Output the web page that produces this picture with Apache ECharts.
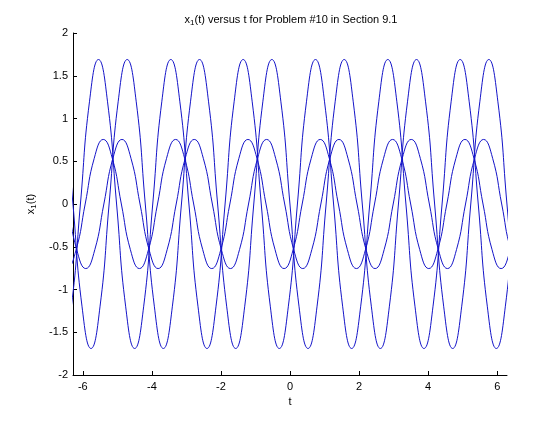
<!DOCTYPE html>
<html><head><meta charset="utf-8">
<script src="https://cdn.jsdelivr.net/npm/echarts@6/dist/echarts.min.js"></script>
<style>html,body{margin:0;padding:0;background:#fff}#c{width:560px;height:421px}</style>
</head><body><div id="c"></div>
<script>
// Curve 1 (large amplitude): t values of peaks, half-levels, crossings
const tA = [-6.5922,-6.3304,-6.0686,-5.8068,-5.5450,-5.2832,-5.0214,-4.7596,-4.4978,-4.2360,-3.9742,-3.7124,-3.4506,-3.1888,-2.9270,-2.6652,-2.4034,-2.1416,-1.8798,-1.6180,-1.3562,-1.0944,-0.8326,-0.5708,-0.3090,-0.0472,0.2146,0.4764,0.7382,1.0000,1.2618,1.5236,1.7854,2.0472,2.3090,2.5708,2.8326,3.0944,3.3562,3.6180,3.8798,4.1416,4.4034,4.6652,4.9270,5.1888,5.4506,5.7124,5.9742,6.2360,6.4978,6.7596];
const yA = [-1.69,-1.195,0,1.195,1.69,1.195,0,-1.195,
 -1.69,-1.195,0,1.195,1.69,1.195,0,-1.195,
 -1.69,-1.195,0,1.195,1.69,1.195,0,-1.195,
 -1.69,-1.195,0,1.195,1.69,1.195,0,-1.195,
 -1.69,-1.195,0,1.195,1.69,1.195,0,-1.195,
 -1.69,-1.195,0,1.195,1.69,1.195,0,-1.195,
 -1.69,-1.195,0,1.195];
// Curve 2 (large amplitude)
const tB = [-6.8084,-6.5466,-6.2848,-6.0230,-5.7612,-5.4994,-5.2376,-4.9758,-4.7140,-4.4522,-4.1904,-3.9286,-3.6668,-3.4050,-3.1432,-2.8814,-2.6196,-2.3578,-2.0960,-1.8342,-1.5724,-1.3106,-1.0488,-0.7870,-0.5252,-0.2634,-0.0016,0.2602,0.5220,0.7838,1.0456,1.3074,1.5692,1.8310,2.0928,2.3546,2.6164,2.8782,3.1400,3.4018,3.6636,3.9254,4.1872,4.4490,4.7108,4.9726,5.2344,5.4962,5.7580,6.0198,6.2816,6.5434,6.8052];
const yB = [1.69,1.195,0,-1.195,-1.69,-1.195,0,1.195,
 1.69,1.195,0,-1.195,-1.69,-1.195,0,1.195,
 1.69,1.195,0,-1.195,-1.69,-1.195,0,1.195,
 1.69,1.195,0,-1.195,-1.69,-1.195,0,1.195,
 1.69,1.195,0,-1.195,-1.69,-1.195,0,1.195,
 1.69,1.195,0,-1.195,-1.69,-1.195,0,1.195,
 1.69,1.195,0,-1.195,-1.69];
// Curve 3 (small amplitude)
const tC = [-6.7160,-6.4542,-6.1924,-5.9306,-5.6688,-5.4070,-5.1452,-4.8834,-4.6216,-4.3598,-4.0980,-3.8362,-3.5744,-3.3126,-3.0508,-2.7890,-2.5272,-2.2654,-2.0036,-1.7418,-1.4800,-1.2182,-0.9564,-0.6946,-0.4328,-0.1710,0.0908,0.3526,0.6144,0.8762,1.1380,1.3998,1.6616,1.9234,2.1852,2.4470,2.7088,2.9706,3.2324,3.4942,3.7560,4.0178,4.2796,4.5414,4.8032,5.0650,5.3268,5.5886,5.8504,6.1122,6.3740,6.6358];
const yC = [-0.534,-0.755,-0.534,0,0.534,0.755,0.534,0,
 -0.534,-0.755,-0.534,0,0.534,0.755,0.534,0,
 -0.534,-0.755,-0.534,0,0.534,0.755,0.534,0,
 -0.534,-0.755,-0.534,0,0.534,0.755,0.534,0,
 -0.534,-0.755,-0.534,0,0.534,0.755,0.534,0,
 -0.534,-0.755,-0.534,0,0.534,0.755,0.534,0,
 -0.534,-0.755,-0.534,0];
// Curve 4 (small amplitude)
const tD = [-6.6986,-6.4368,-6.1750,-5.9132,-5.6514,-5.3896,-5.1278,-4.8660,-4.6042,-4.3424,-4.0806,-3.8188,-3.5570,-3.2952,-3.0334,-2.7716,-2.5098,-2.2480,-1.9862,-1.7244,-1.4626,-1.2008,-0.9390,-0.6772,-0.4154,-0.1536,0.1082,0.3700,0.6318,0.8936,1.1554,1.4172,1.6790,1.9408,2.2026,2.4644,2.7262,2.9880,3.2498,3.5116,3.7734,4.0352,4.2970,4.5588,4.8206,5.0824,5.3442,5.6060,5.8678,6.1296,6.3914,6.6532];
const yD = [0.534,0,-0.534,-0.755,-0.534,0,0.534,0.755,
 0.534,0,-0.534,-0.755,-0.534,0,0.534,0.755,
 0.534,0,-0.534,-0.755,-0.534,0,0.534,0.755,
 0.534,0,-0.534,-0.755,-0.534,0,0.534,0.755,
 0.534,0,-0.534,-0.755,-0.534,0,0.534,0.755,
 0.534,0,-0.534,-0.755,-0.534,0,0.534,0.755,
 0.534,0,-0.534,-0.755];

const xTicks = [-6,-4,-2,0,2,4,6];
const xRange = [-6.2832, 6.2832];
const yRange = [-2, 2];
const yStep = 0.5;

function pairs(t, y) { return t.map((v, i) => [v, y[i]]); }

const font = '"Liberation Sans", Arial, Helvetica, sans-serif';
const subStyle = { fontSize: 8, fontFamily: font, color: '#000', padding: [7, 0, 0, 0] };
const lineColor = '#1414c8';
const chart = echarts.init(document.getElementById('c'), null, { renderer: 'canvas' });
const lineSeries = (t, y) => ({
  type: 'line', data: pairs(t, y), smooth: true, symbol: 'none', showSymbol: false,
  silent: true, clip: true, lineStyle: { color: lineColor, width: 1 }, itemStyle: { color: lineColor }
});
chart.setOption({
  animation: false,
  backgroundColor: '#fff',
  title: {
    text: 'x{s|1}(t) versus t for Problem #10 in Section 9.1',
    left: 286, top: 7, textAlign: 'center',
    textStyle: { fontSize: 11, fontWeight: 'normal', color: '#000', fontFamily: font, rich: { s: subStyle } }
  },
  grid: { left: 73, right: 53, top: 33, bottom: 46 },
  xAxis: {
    type: 'value', min: xRange[0], max: xRange[1],
    name: 't', nameLocation: 'middle', nameGap: 18,
    nameTextStyle: { fontSize: 11, color: '#000', fontFamily: font },
    axisLine: { onZero: false, lineStyle: { color: '#000', width: 1 } },
    axisTick: { inside: true, length: 4, customValues: xTicks, lineStyle: { color: '#000' } },
    axisLabel: { customValues: xTicks, margin: 6, fontSize: 11, color: '#000', fontFamily: font },
    splitLine: { show: false }
  },
  yAxis: {
    type: 'value', min: yRange[0], max: yRange[1], interval: yStep,
    name: 'x{s|1}(t)', nameLocation: 'middle', nameGap: 25,
    nameTextStyle: { fontSize: 11, color: '#000', fontFamily: font, rich: { s: subStyle } },
    axisLine: { onZero: false, show: true, lineStyle: { color: '#000', width: 1 } },
    axisTick: { show: true, inside: true, length: 4, lineStyle: { color: '#000' } },
    axisLabel: { margin: 5, fontSize: 11, color: '#000', fontFamily: font },
    splitLine: { show: false }
  },
  series: [lineSeries(tA, yA), lineSeries(tB, yB), lineSeries(tC, yC), lineSeries(tD, yD)]
});
</script>
</body></html>
